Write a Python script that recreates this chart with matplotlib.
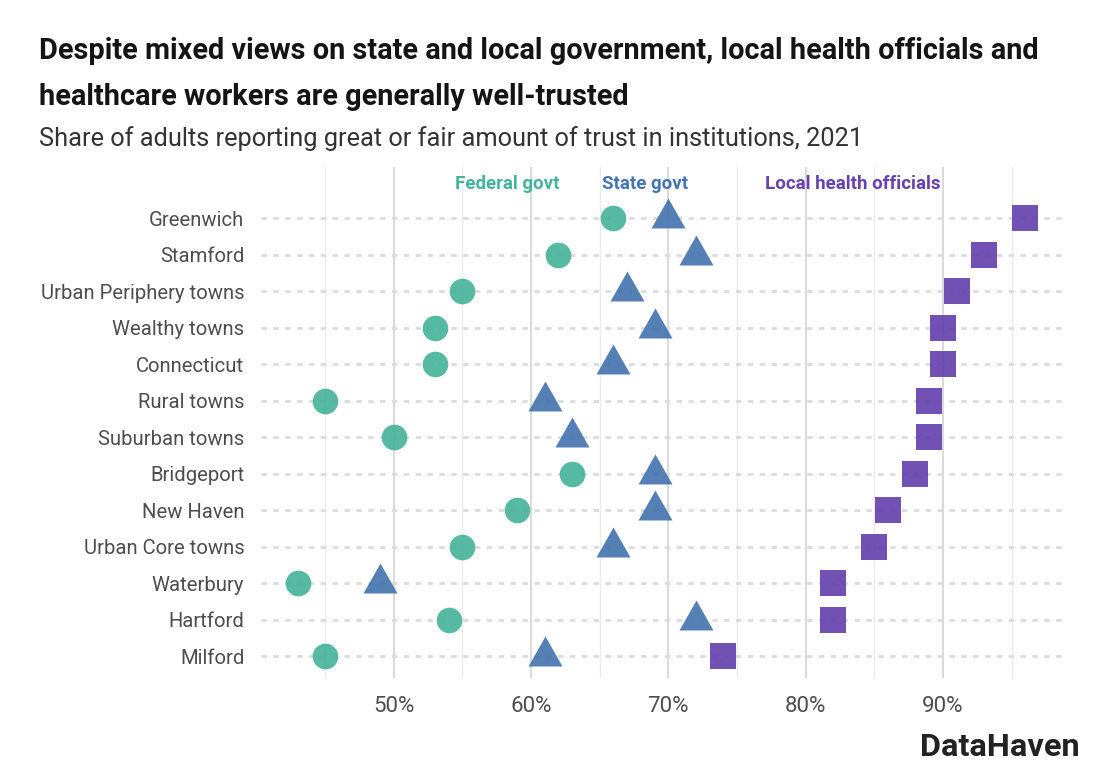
import matplotlib
matplotlib.use("Agg")

import numpy as np
from matplotlib import pyplot as plt

places = ["Greenwich", "Stamford", "Urban Periphery towns", "Wealthy towns", "Connecticut",
          "Rural towns", "Suburban towns", "Bridgeport", "New Haven", "Urban Core towns",
          "Waterbury", "Hartford", "Milford"]
federal = [66, 62, 55, 53, 53, 45, 50, 63, 59, 55, 43, 54, 45]
state = [70, 72, 67, 69, 66, 61, 63, 69, 69, 66, 49, 72, 61]
local_health = [96, 93, 91, 90, 90, 89, 89, 88, 86, 85, 82, 82, 74]
major_ticks = [50, 60, 70, 80, 90]
minor_ticks = [45, 55, 65, 75, 85, 95]
tick_labels = ["50%", "60%", "70%", "80%", "90%"]

TEAL = "#47b39a"
BLUE = "#4675b0"
PURPLE = "#6542ae"
TRIANGLE = [(-17, -10), (17, -10), (0, 20)]

plt.rcParams["font.family"] = ["Roboto", "DejaVu Sans"]

W, H = 1100, 780
fig = plt.figure(figsize=(W / 100, H / 100), dpi=100)
ax = fig.add_axes([261 / W, 1 - 678 / H, (1062 - 261) / W, (678 - 167) / H])

y = np.arange(len(places))
ax.set_xlim(40.335, 98.67)
ax.set_ylim(12.59, -1.396)

ax.set_xticks(major_ticks, tick_labels)
ax.set_xticks(minor_ticks, minor=True)
ax.set_yticks(y, places)
ax.grid(axis="x", which="major", color="#d9d9d9", linewidth=1.4)
ax.grid(axis="x", which="minor", color="#ebebeb", linewidth=1.0)
ax.grid(axis="y", color="#dcdcdc", linewidth=2.0, linestyle=(0, (1.94, 2.33)))
ax.set_axisbelow(True)
ax.tick_params(which="both", length=0)
ax.tick_params(axis="y", labelsize=14.6, labelcolor="#4d4d4d", pad=12)
ax.tick_params(axis="x", labelsize=16, labelcolor="#4d4d4d", pad=13)
for side in ax.spines.values():
    side.set_visible(False)

ax.scatter(federal, y, s=340, marker="o", color=TEAL, alpha=0.92, linewidths=0, zorder=3, clip_on=False)
ax.scatter(state, y, s=829, marker=TRIANGLE, color=BLUE, alpha=0.92, linewidths=0, zorder=3, clip_on=False)
ax.scatter(local_health, y, s=340, marker="s", color=PURPLE, alpha=0.92, linewidths=0, zorder=3, clip_on=False)

ax.text(58.3, -0.93, "Federal govt", color=TEAL, fontsize=13.5, fontweight="bold", ha="center", va="center")
ax.text(68.3, -0.93, "State govt", color=BLUE, fontsize=13.5, fontweight="bold", ha="center", va="center")
ax.text(83.4, -0.93, "Local health officials", color=PURPLE, fontsize=13.5, fontweight="bold", ha="center", va="center")

fig.text(39 / W, 1 - 51 / H, "Despite mixed views on state and local government, local health officials and",
         fontsize=20.8, fontweight="bold", color="#141414", va="center")
fig.text(39 / W, 1 - 97 / H, "healthcare workers are generally well-trusted",
         fontsize=20.8, fontweight="bold", color="#141414", va="center")
fig.text(39 / W, 1 - 138.5 / H, "Share of adults reporting great or fair amount of trust in institutions, 2021",
         fontsize=18.3, color="#333333", va="center")
fig.text(1080 / W, 1 - 747.5 / H, "DataHaven", fontsize=23.4, fontweight="bold", color="#222222", ha="right", va="center")

fig.savefig("out.png", dpi=100)
